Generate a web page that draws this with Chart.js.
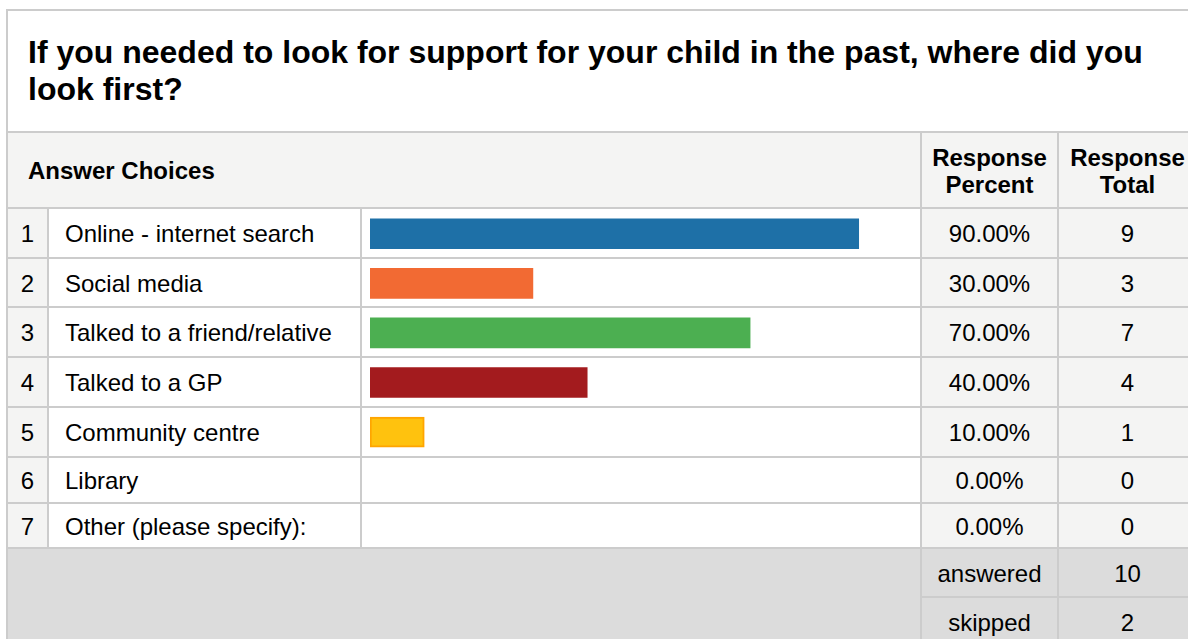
<!DOCTYPE html>
<html>
<head>
<meta charset="utf-8">
<title>Survey results</title>
<script src="https://cdn.jsdelivr.net/npm/chart.js@4.4.1/dist/chart.umd.min.js"></script>
<style>
  body { margin: 0; width: 1188px; height: 639px; overflow: hidden; background: #fff;
         font-family: Arial, "Liberation Sans", sans-serif; color: #000; position: relative; }
  .box { position: absolute; box-sizing: border-box; }
  .txt { position: absolute; display: flex; align-items: center; font-size: 24px; white-space: nowrap; }
  .center { justify-content: center; text-align: center; }
  .bold { font-weight: bold; }
  .hl { position: absolute; height: 2px; background: #ccc; }
  .vl { position: absolute; width: 2px; background: #ccc; }
  #title { position: absolute; left: 28px; top: 34px; width: 1150px; font-size: 32px;
           font-weight: bold; line-height: 37px; }
  #bars { position: absolute; left: 361px; top: 209px; }
</style>
</head>
<body>
<div class="box" style="left:6px;top:9px;width:1400px;height:800px;border:2px solid #ccc;"></div>
<div id="title">If you needed to look for support for your child in the past, where did you look first?</div>
<div id="grid"></div>
<canvas id="bars" width="560" height="347"></canvas>

<script>
// ─── DATA ────────────────────────────────────────────
const choices = [
  'Online - internet search',
  'Social media',
  'Talked to a friend/relative',
  'Talked to a GP',
  'Community centre',
  'Library',
  'Other (please specify):'
];
const percents = [90, 30, 70, 40, 10, 0, 0];
const totals = [9, 3, 7, 4, 1, 0, 0];
const summaryLabels = ['answered', 'skipped'];
const summaryValues = [10, 2];
const headers = ['Answer Choices', 'Response<br>Percent', 'Response<br>Total'];

// empty answers get no visible bar at all
const NONE = 'rgba(0,0,0,0)';
const barColors = ['#1e70a7', '#f26a33', '#4caf51', '#a31b1e', '#ffc20e', NONE, NONE];
const barBorders = ['#1e70a7', '#f26a33', '#4caf51', '#a31b1e', '#ffa500', NONE, NONE];
const barBorderWidths = [0, 0, 0, 0, 2, 0, 0];

// ─── TABLE LAYOUT ────────────────────────────────────
const grid = document.getElementById('grid');
const LIGHT = '#f4f4f3', FOOT = '#dcdcdc';
const lineY = [207, 257, 306, 356, 406, 456, 502, 547]; // row separators
const X = { left: 8, num: 47, label: 360, pct: 920, tot: 1057, right: 1196 };

function el(cls, style, html) {
  const d = document.createElement('div');
  d.className = cls;
  d.style.cssText = style;
  if (html !== undefined) d.innerHTML = html;
  grid.appendChild(d);
  return d;
}
function rect(x, y, w, h, bg) { el('box', `left:${x}px;top:${y}px;width:${w}px;height:${h}px;background:${bg}`); }
function text(x, y, w, h, s, extra) { el('txt ' + (extra || ''), `left:${x}px;top:${y}px;width:${w}px;height:${h}px`, s); }

// header row
rect(X.left, 133, 1300, 74, LIGHT);
text(28, 134, 400, 74, headers[0], 'bold');
el('txt bold center', `left:${X.pct + 2}px;top:134px;width:${X.tot - X.pct - 2}px;height:74px;line-height:27px`, headers[1]);
el('txt bold center', `left:${X.tot + 2}px;top:134px;width:${X.right - X.tot - 2}px;height:74px;line-height:27px`, headers[2]);

// answer rows
choices.forEach((c, i) => {
  const top = lineY[i] + 2, h = lineY[i + 1] - top;
  rect(X.left, top, X.num - X.left, h, LIGHT);
  rect(X.pct, top, 400, h, LIGHT);
  text(X.left, top + 1, X.num - X.left, h, String(i + 1), 'center');
  text(65, top + 1, 290, h, c);
  text(X.pct + 2, top + 1, X.tot - X.pct - 2, h, percents[i].toFixed(2) + '%', 'center');
  text(X.tot + 2, top + 1, X.right - X.tot - 2, h, String(totals[i]), 'center');
});

// summary rows
rect(X.left, 549, 1300, 200, FOOT);
const sumTops = [550, 598], sumH = [47, 50];
summaryLabels.forEach((s, i) => {
  text(X.pct + 2, sumTops[i], X.tot - X.pct - 2, sumH[i], s, 'center');
  text(X.tot + 2, sumTops[i], X.right - X.tot - 2, sumH[i], String(summaryValues[i]), 'center');
});

// rules
el('hl', `left:${X.left}px;top:131px;width:1300px`);
lineY.forEach(y => el('hl', `left:${X.left}px;top:${y}px;width:1300px`));
el('hl', `left:${X.pct}px;top:596px;width:400px`);
el('vl', `left:${X.num}px;top:209px;height:338px`);
el('vl', `left:${X.label}px;top:209px;height:338px`);
el('vl', `left:${X.pct}px;top:133px;height:600px`);
el('vl', `left:${X.tot}px;top:133px;height:600px`);

// ─── BAR CHART ───────────────────────────────────────
new Chart(document.getElementById('bars').getContext('2d'), {
  type: 'bar',
  data: {
    labels: choices,
    datasets: [{
      data: percents,
      backgroundColor: barColors,
      borderColor: barBorders,
      borderWidth: barBorderWidths,
      borderSkipped: false,
      barThickness: 30
    }]
  },
  options: {
    indexAxis: 'y',
    responsive: false,
    animation: false,
    layout: { padding: { left: 9, right: 8, top: 0, bottom: 0 } },
    plugins: { legend: { display: false }, tooltip: { enabled: false } },
    scales: {
      x: { display: false, min: 0, max: 100 },
      y: { display: false }
    }
  }
});
</script>
</body>
</html>
